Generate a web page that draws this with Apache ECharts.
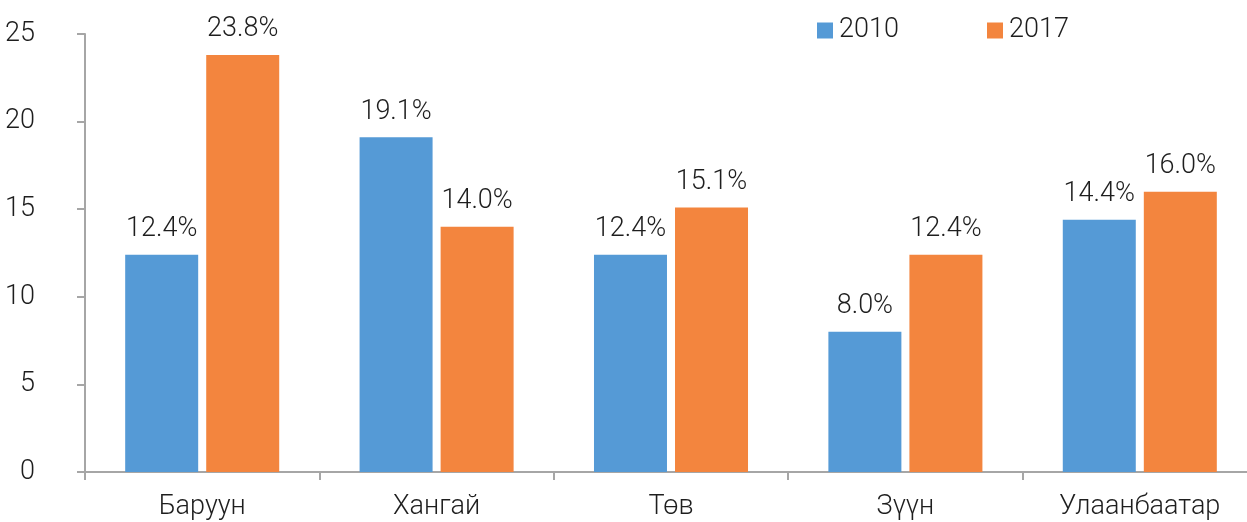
<!DOCTYPE html>
<html><head><meta charset="utf-8">
<script src="https://cdn.jsdelivr.net/npm/echarts@6/dist/echarts.min.js"></script>
<style>html,body{margin:0;padding:0;background:#fff;overflow:hidden;width:1247px;height:522px}#c{width:1257px;height:522px}</style>
</head><body><div id="c"></div>
<script>
var categories = ['Баруун', 'Хангай', 'Төв', 'Зүүн', 'Улаанбаатар'];
var series2010 = [12.4, 19.1, 12.4, 8.0, 14.4];
var series2017 = [23.8, 14.0, 15.1, 12.4, 16.0];
var yTicks = [0, 5, 10, 15, 20, 25];

var FONT = 'Roboto, sans-serif';
var TXT = '#1e1e1e';
var chart = echarts.init(document.getElementById('c'), null, {renderer: 'canvas'});
var lbl = {
  show: true, position: 'top', distance: 12,
  fontFamily: FONT, fontSize: 27, fontWeight: 300, color: TXT,
  formatter: function (p) { return p.value.toFixed(1) + '%'; }
};
chart.setOption({
  animation: false,
  backgroundColor: '#fff',
  grid: {left: 85, top: 34, right: 0, bottom: 50, containLabel: false},
  legend: [
    {data: ['2010'], left: 812, top: 12, itemWidth: 16, itemHeight: 16, itemGap: 7,
     icon: 'rect', textStyle: {fontFamily: FONT, fontSize: 27, fontWeight: 300, color: TXT, padding: [0, 0, 0, 1]}},
    {data: ['2017'], left: 982, top: 12, itemWidth: 16, itemHeight: 16, itemGap: 7,
     icon: 'rect', textStyle: {fontFamily: FONT, fontSize: 27, fontWeight: 300, color: TXT, padding: [0, 0, 0, 1]}}
  ],
  xAxis: {
    type: 'category', data: categories,
    axisLine: {show: true, lineStyle: {color: '#a6a6a6', width: 2}},
    axisTick: {show: true, length: 8, lineStyle: {color: '#a6a6a6', width: 2}},
    axisLabel: {margin: 22, fontFamily: FONT, fontSize: 27, fontWeight: 300, color: TXT}
  },
  yAxis: {
    type: 'value', min: yTicks[0], max: yTicks[yTicks.length - 1], interval: 5,
    axisLine: {show: true, lineStyle: {color: '#a6a6a6', width: 2}},
    axisTick: {show: true, length: 8, lineStyle: {color: '#a6a6a6', width: 2}},
    splitLine: {show: false},
    axisLabel: {margin: 50, fontFamily: FONT, fontSize: 27, fontWeight: 300, color: TXT}
  },
  series: [
    {name: '2010', type: 'bar', data: series2010, barWidth: 73, barGap: '11%',
     itemStyle: {color: '#559ad6'}, label: lbl},
    {name: '2017', type: 'bar', data: series2017, barWidth: 73, barGap: '11%',
     itemStyle: {color: '#f3853e'}, label: lbl}
  ]
});
</script></body></html>
